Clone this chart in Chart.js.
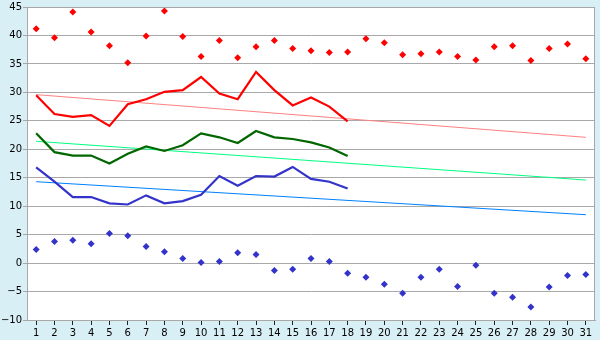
<!DOCTYPE html>
<html>
<head>
<meta charset="utf-8">
<script src="https://cdn.jsdelivr.net/npm/chart.js@4/dist/chart.umd.min.js"></script>
<style>
  html, body { margin: 0; padding: 0; background: #d9eff6; }
  #wrap { width: 600px; height: 340px; }
</style>
</head>
<body>
<div id="wrap"><canvas id="chart"></canvas></div>
<script>
  // --- data ---
  const days = ["1","2","3","4","5","6","7","8","9","10","11","12","13","14","15","16",
                "17","18","19","20","21","22","23","24","25","26","27","28","29","30","31"];

  const maxPoints = [41.2, 39.6, 44.1, 40.6, 38.2, 35.2, 39.9, 44.3, 39.8, 36.3, 39.1, 36.1, 38.0, 39.1, 37.7,
                     37.3, 37.0, 37.1, 39.4, 38.7, 36.6, 36.8, 37.1, 36.3, 35.7, 38.0, 38.2, 35.6, 37.7, 38.5, 35.9];
  const minPoints = [2.4, 3.8, 4.0, 3.4, 5.2, 4.8, 2.9, 2.0, 0.8, 0.1, 0.3, 1.8, 1.5, -1.3, -1.1,
                     0.8, 0.3, -1.8, -2.5, -3.7, -5.3, -2.5, -1.1, -4.1, -0.4, -5.3, -6.0, -7.7, -4.2, -2.2, -2.0];

  const redLine   = [29.5, 26.2, 25.7, 26.0, 24.1, 27.9, 28.8, 30.1, 30.4, 32.7, 29.8, 28.8, 33.6, 30.4, 27.7, 29.1, 27.5, 24.9];
  const greenLine = [22.8, 19.5, 18.9, 18.9, 17.5, 19.2, 20.5, 19.7, 20.7, 22.8, 22.1, 21.1, 23.2, 22.1, 21.8, 21.2, 20.3, 18.8];
  const blueLine  = [16.8, 14.3, 11.6, 11.6, 10.5, 10.3, 11.9, 10.5, 10.9, 12.0, 15.3, 13.6, 15.3, 15.2, 16.9, 14.8, 14.3, 13.1];

  // trend lines: value at day 1 and at day 31
  const redTrend   = [29.6, 22.1];
  const greenTrend = [21.4, 14.6];
  const blueTrend  = [14.3, 8.5];

  const yTicks = { min: -10, max: 45, step: 5 };

  // 両端だけの配列にする（間は null、spanGaps で直線）
  const ends = (pair) => days.map((d, i) => i === 0 ? pair[0] : (i === days.length - 1 ? pair[1] : null));

  const FONT = { family: "'DejaVu Sans', Verdana, sans-serif", size: 10 };

  const plotFrame = {
    id: "plotFrame",
    beforeDraw(chart) {
      const { ctx, chartArea: a } = chart;
      ctx.save();
      ctx.fillStyle = "#ffffff";
      ctx.fillRect(a.left, a.top, a.right - a.left, a.bottom - a.top);
      ctx.restore();
    },
    afterDatasetsDraw(chart) {
      const { ctx, chartArea: a } = chart;
      ctx.save();
      ctx.strokeStyle = "#a8a8a8";
      ctx.lineWidth = 1;
      ctx.strokeRect(Math.round(a.left) + 0.5, Math.round(a.top) + 0.5,
                     Math.round(a.right - a.left) - 1, Math.round(a.bottom - a.top));
      ctx.restore();
    }
  };

  const trend = (data, color) => ({
    type: "line", data: ends(data), borderColor: color, borderWidth: 1,
    pointRadius: 0, spanGaps: true, fill: false, order: 3
  });
  const line = (data, color) => ({
    type: "line", data, borderColor: color, borderWidth: 2.2,
    pointRadius: 0, fill: false, tension: 0, order: 2
  });
  const marks = (data, color) => ({
    type: "line", data, showLine: false, pointStyle: "rectRot",
    pointRadius: 3.5, pointBackgroundColor: color, pointBorderColor: color,
    pointBorderWidth: 0, order: 1
  });

  new Chart(document.getElementById("chart"), {
    type: "line",
    data: {
      labels: days,
      datasets: [
        marks(maxPoints, "#ff0000"),
        marks(minPoints, "#3333cc"),
        line(redLine, "#ff0000"),
        line(greenLine, "#006600"),
        line(blueLine, "#3333cc"),
        trend(redTrend, "#ff8080"),
        trend(greenTrend, "#00ff80"),
        trend(blueTrend, "#0080ff")
      ]
    },
    options: {
      responsive: true,
      maintainAspectRatio: false,
      animation: false,
      layout: { padding: { top: 5, right: 5, left: 0, bottom: 0 } },
      plugins: { legend: { display: false }, tooltip: { enabled: false } },
      scales: {
        x: {
          offset: true,
          grid: { drawOnChartArea: false, offset: false, tickLength: 5, color: "#222222" },
          border: { color: "#a8a8a8" },
          ticks: { color: "#000000", font: FONT, padding: 2, maxRotation: 0, autoSkip: false },
          afterFit(s) { s.height = 20; }
        },
        y: {
          min: yTicks.min, max: yTicks.max,
          grid: { color: "#a8a8a8", tickLength: 4 },
          border: { color: "#a8a8a8" },
          ticks: {
            stepSize: yTicks.step, color: "#000000", font: FONT, padding: 1,
            callback: (v) => String(v).replace("-", "\u2212")
          },
          afterFit(s) { s.width = 27; }
        }
      }
    },
    plugins: [plotFrame]
  });
</script>
</body>
</html>
